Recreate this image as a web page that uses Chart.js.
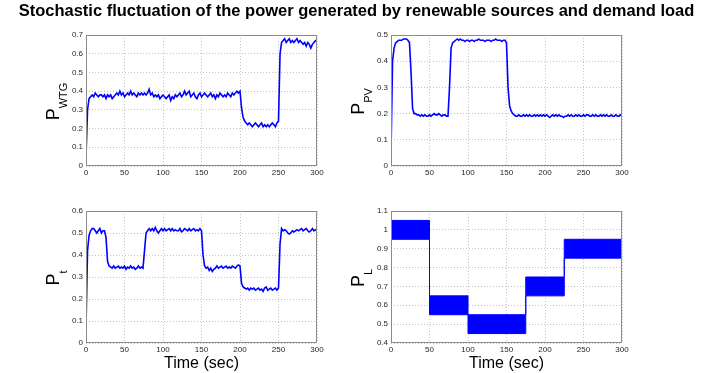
<!DOCTYPE html>
<html>
<head>
<meta charset="utf-8">
<title>Stochastic fluctuation of power</title>
<script src="https://cdn.jsdelivr.net/npm/chart.js@4.4.1/dist/chart.umd.min.js"></script>
<style>
  html, body { margin: 0; padding: 0; background: #fff; }
  #figure { position: relative; width: 713px; height: 373px; }
  #figure canvas { position: absolute; left: 0; top: 0; }
</style>
</head>
<body>
<div id="figure">
  <canvas id="wtgChart" width="713" height="373"></canvas>
  <canvas id="pvChart" width="713" height="373"></canvas>
  <canvas id="totalChart" width="713" height="373"></canvas>
  <canvas id="loadChart" width="713" height="373"></canvas>
</div>
<script>
// Sample times (s)
const time = [
  0, 2, 4, 6, 8, 10, 12, 14, 16, 18,
  20, 22, 24, 26, 28, 30, 32, 34, 36, 38,
  40, 42, 44, 46, 48, 50, 52, 54, 56, 58,
  60, 62, 64, 66, 68, 70, 72, 74, 76, 78,
  80, 82, 84, 86, 88, 90, 92, 94, 96, 98,
  100, 102, 104, 106, 108, 110, 112, 114, 116, 118,
  120, 122, 124, 126, 128, 130, 132, 134, 136, 138,
  140, 142, 144, 146, 148, 150, 152, 154, 156, 158,
  160, 162, 164, 166, 168, 170, 172, 174, 176, 178,
  180, 182, 184, 186, 188, 190, 192, 194, 196, 198,
  200, 202, 204, 206, 208, 210, 212, 214, 216, 218,
  220, 222, 224, 226, 228, 230, 232, 234, 236, 238,
  240, 242, 244, 246, 248, 250, 252, 254, 256, 258,
  260, 262, 264, 266, 268, 270, 272, 274, 276, 278,
  280, 282, 284, 286, 288, 290, 292, 294, 296, 298,
  300
];

// Wind turbine output (p.u.)
const wtgPower = [
  0.05, 0.30, 0.36, 0.37, 0.38, 0.37, 0.39, 0.38, 0.37, 0.38,
  0.38, 0.37, 0.38, 0.36, 0.38, 0.37, 0.38, 0.36, 0.37, 0.38,
  0.39, 0.38, 0.40, 0.38, 0.39, 0.37, 0.38, 0.39, 0.38, 0.40,
  0.38, 0.39, 0.38, 0.37, 0.39, 0.38, 0.39, 0.38, 0.39, 0.38,
  0.39, 0.41, 0.38, 0.39, 0.37, 0.38, 0.37, 0.38, 0.36, 0.37,
  0.38, 0.37, 0.36, 0.37, 0.38, 0.35, 0.37, 0.36, 0.38, 0.37,
  0.38, 0.39, 0.37, 0.38, 0.40, 0.38, 0.39, 0.40, 0.37, 0.38,
  0.39, 0.37, 0.36, 0.38, 0.39, 0.37, 0.38, 0.39, 0.38, 0.37,
  0.38, 0.39, 0.37, 0.38, 0.36, 0.38, 0.37, 0.39, 0.38, 0.37,
  0.38, 0.37, 0.39, 0.38, 0.37, 0.39, 0.38, 0.39, 0.40, 0.39,
  0.40, 0.31, 0.26, 0.24, 0.23, 0.22, 0.23, 0.22, 0.21, 0.22,
  0.23, 0.22, 0.21, 0.22, 0.23, 0.21, 0.22, 0.21, 0.22, 0.21,
  0.22, 0.23, 0.22, 0.21, 0.23, 0.24, 0.60, 0.66, 0.67, 0.68,
  0.66, 0.67, 0.68, 0.66, 0.67, 0.66, 0.67, 0.68, 0.66, 0.67,
  0.66, 0.65, 0.66, 0.64, 0.66, 0.65, 0.63, 0.65, 0.66, 0.67,
  0.67
];

// Photovoltaic output (p.u.)
const pvPower = [
  0.05, 0.40, 0.45, 0.47, 0.475, 0.48, 0.48, 0.48, 0.485, 0.485,
  0.485, 0.48, 0.47, 0.36, 0.22, 0.20, 0.20, 0.195, 0.195, 0.19,
  0.195, 0.19, 0.195, 0.19, 0.19, 0.195, 0.19, 0.195, 0.20, 0.195,
  0.195, 0.20, 0.195, 0.19, 0.195, 0.195, 0.19, 0.19, 0.30, 0.45,
  0.47, 0.475, 0.48, 0.485, 0.48, 0.485, 0.48, 0.48, 0.475, 0.48,
  0.48, 0.475, 0.48, 0.48, 0.475, 0.48, 0.48, 0.485, 0.48, 0.48,
  0.48, 0.475, 0.48, 0.48, 0.48, 0.475, 0.48, 0.48, 0.485, 0.48,
  0.48, 0.48, 0.475, 0.48, 0.48, 0.47, 0.30, 0.23, 0.21, 0.20,
  0.195, 0.19, 0.19, 0.195, 0.19, 0.19, 0.195, 0.19, 0.195, 0.19,
  0.195, 0.19, 0.19, 0.195, 0.19, 0.195, 0.19, 0.195, 0.19, 0.195,
  0.19, 0.195, 0.19, 0.185, 0.19, 0.195, 0.19, 0.195, 0.19, 0.195,
  0.19, 0.19, 0.185, 0.19, 0.19, 0.195, 0.19, 0.195, 0.19, 0.19,
  0.195, 0.19, 0.195, 0.19, 0.19, 0.195, 0.19, 0.195, 0.195, 0.19,
  0.19, 0.195, 0.19, 0.195, 0.19, 0.19, 0.195, 0.19, 0.195, 0.19,
  0.195, 0.19, 0.19, 0.195, 0.19, 0.19, 0.195, 0.19, 0.19, 0.195,
  0.19
];

// Total generated power (p.u.)
const totalPower = [
  0.07, 0.42, 0.49, 0.51, 0.52, 0.52, 0.51, 0.50, 0.51, 0.52,
  0.50, 0.51, 0.51, 0.48, 0.37, 0.35, 0.345, 0.34, 0.35, 0.34,
  0.345, 0.35, 0.34, 0.345, 0.34, 0.35, 0.335, 0.345, 0.34, 0.35,
  0.34, 0.345, 0.335, 0.34, 0.35, 0.34, 0.345, 0.34, 0.42, 0.50,
  0.51, 0.52, 0.51, 0.52, 0.51, 0.525, 0.51, 0.50, 0.51, 0.52,
  0.51, 0.52, 0.51, 0.515, 0.52, 0.51, 0.52, 0.51, 0.515, 0.51,
  0.51, 0.52, 0.505, 0.51, 0.52, 0.515, 0.51, 0.52, 0.51, 0.515,
  0.52, 0.51, 0.515, 0.51, 0.52, 0.51, 0.40, 0.35, 0.34, 0.345,
  0.33, 0.34, 0.325, 0.335, 0.34, 0.35, 0.34, 0.345, 0.35, 0.34,
  0.345, 0.35, 0.34, 0.345, 0.34, 0.35, 0.345, 0.34, 0.35, 0.355,
  0.35, 0.27, 0.255, 0.25, 0.245, 0.25, 0.24, 0.25, 0.245, 0.25,
  0.24, 0.245, 0.25, 0.24, 0.245, 0.235, 0.25, 0.255, 0.24, 0.245,
  0.25, 0.24, 0.245, 0.25, 0.24, 0.25, 0.45, 0.52, 0.51, 0.515,
  0.51, 0.50, 0.495, 0.50, 0.51, 0.505, 0.51, 0.515, 0.51, 0.515,
  0.52, 0.51, 0.515, 0.52, 0.51, 0.505, 0.51, 0.52, 0.51, 0.515,
  0.51
];

// Demand load: band limits per load step (p.u.)
const loadTimes = [0, 50, 100, 175, 225, 300];
const loadUpper = [1.05, 0.65, 0.55, 0.75, 0.95, 0.95];
const loadLower = [0.95, 0.55, 0.45, 0.65, 0.85, 0.85];

// y-axis limits [min, max]
const wtgRange = [0, 0.7];
const pvRange = [0, 0.5];
const totalRange = [0, 0.6];
const loadRange = [0.4, 1.1];

const FIG_W = 713, FIG_H = 373;
const FONT = '"Liberation Sans", Arial, Helvetica, sans-serif';
const BLUE = '#0000ff';

// Draws the axes box, the rotated P_x label and (optionally) the figure title
const panelDecor = {
  id: 'panelDecor',
  afterDraw(chart, args, opts) {
    const ctx = chart.ctx;
    const a = chart.chartArea;
    ctx.save();
    ctx.strokeStyle = '#8c8c8c';
    ctx.lineWidth = 1;
    ctx.strokeRect(Math.round(a.left) + 0.5, Math.round(a.top) + 0.5,
                   Math.round(a.width) - 1, Math.round(a.height) - 1);

    if (opts.title) {
      ctx.fillStyle = '#000';
      ctx.font = 'bold 16.5px ' + FONT;
      ctx.textAlign = 'center';
      ctx.textBaseline = 'alphabetic';
      ctx.fillText(opts.title, FIG_W / 2, 16);
    }

    ctx.translate(a.left - 27, (a.top + a.bottom) / 2 + 1);
    ctx.rotate(-Math.PI / 2);
    ctx.fillStyle = '#000';
    ctx.textAlign = 'left';
    ctx.textBaseline = 'alphabetic';
    ctx.font = '18px ' + FONT;
    const wMain = ctx.measureText('P').width;
    ctx.font = '11px ' + FONT;
    const wSub = ctx.measureText(opts.sub).width;
    const x0 = -(wMain + wSub) / 2;
    ctx.font = '18px ' + FONT;
    ctx.fillText('P', x0, 0);
    ctx.font = '11px ' + FONT;
    ctx.fillText(opts.sub, x0 + wMain, 8);
    ctx.restore();
  }
};

function lineSeries(values) {
  return {
    data: time.map((t, i) => ({ x: t, y: values[i] })),
    borderColor: BLUE,
    borderWidth: 1.6,
    pointRadius: 0,
    tension: 0,
    fill: false
  };
}

function makePanel(id, box, range, sub, datasets, withTimeTitle, title) {
  const xAxisH = withTimeTitle ? FIG_H - box.bottom : 20;
  const yAxisW = 40;
  return new Chart(document.getElementById(id), {
    type: 'line',
    data: { datasets: datasets },
    plugins: [panelDecor],
    options: {
      responsive: false,
      animation: false,
      events: [],
      layout: {
        padding: {
          left: box.left - yAxisW,
          top: box.top,
          right: FIG_W - box.right,
          bottom: FIG_H - box.bottom - xAxisH
        }
      },
      plugins: {
        legend: { display: false },
        tooltip: { enabled: false },
        panelDecor: { sub: sub, title: title }
      },
      scales: {
        x: {
          type: 'linear',
          min: 0,
          max: 300,
          afterFit: s => { s.height = xAxisH; },
          grid: { color: '#c4c4c4', lineWidth: 1, drawTicks: false },
          border: { display: false, dash: [1, 2] },
          ticks: {
            stepSize: 50,
            maxRotation: 0,
            autoSkip: false,
            padding: 2,
            color: '#262626',
            font: { family: FONT, size: 8 }
          },
          title: {
            display: withTimeTitle,
            text: 'Time (sec)',
            color: '#000',
            font: { family: FONT, size: 16 },
            padding: { top: 0, bottom: 0 }
          }
        },
        y: {
          min: range[0],
          max: range[1],
          afterFit: s => { s.width = yAxisW; },
          grid: { color: '#c4c4c4', lineWidth: 1, drawTicks: false },
          border: { display: false, dash: [1, 2] },
          ticks: {
            stepSize: 0.1,
            padding: 3,
            color: '#262626',
            font: { family: FONT, size: 8 },
            callback: v => String(Math.round(v * 10) / 10)
          }
        }
      }
    }
  });
}

const leftCol = { left: 86, right: 317 };
const rightCol = { left: 391, right: 622 };
const topRow = { top: 35, bottom: 166 };
const bottomRow = { top: 211, bottom: 343 };

makePanel('wtgChart', { ...leftCol, ...topRow }, wtgRange, 'WTG',
  [lineSeries(wtgPower)], false,
  'Stochastic fluctuation of the power generated by renewable sources and demand load');

makePanel('pvChart', { ...rightCol, ...topRow }, pvRange, 'PV',
  [lineSeries(pvPower)], false);

makePanel('totalChart', { ...leftCol, ...bottomRow }, totalRange, 't',
  [lineSeries(totalPower)], true);

makePanel('loadChart', { ...rightCol, ...bottomRow }, loadRange, 'L', [
  {
    data: loadTimes.map((t, i) => ({ x: t, y: loadUpper[i] })),
    stepped: true,
    borderColor: BLUE,
    borderWidth: 1,
    pointRadius: 0,
    fill: false
  },
  {
    data: loadTimes.map((t, i) => ({ x: t, y: loadLower[i] })),
    stepped: true,
    borderColor: BLUE,
    borderWidth: 1,
    pointRadius: 0,
    backgroundColor: BLUE,
    fill: '-1'
  }
], true);
</script>
</body>
</html>
